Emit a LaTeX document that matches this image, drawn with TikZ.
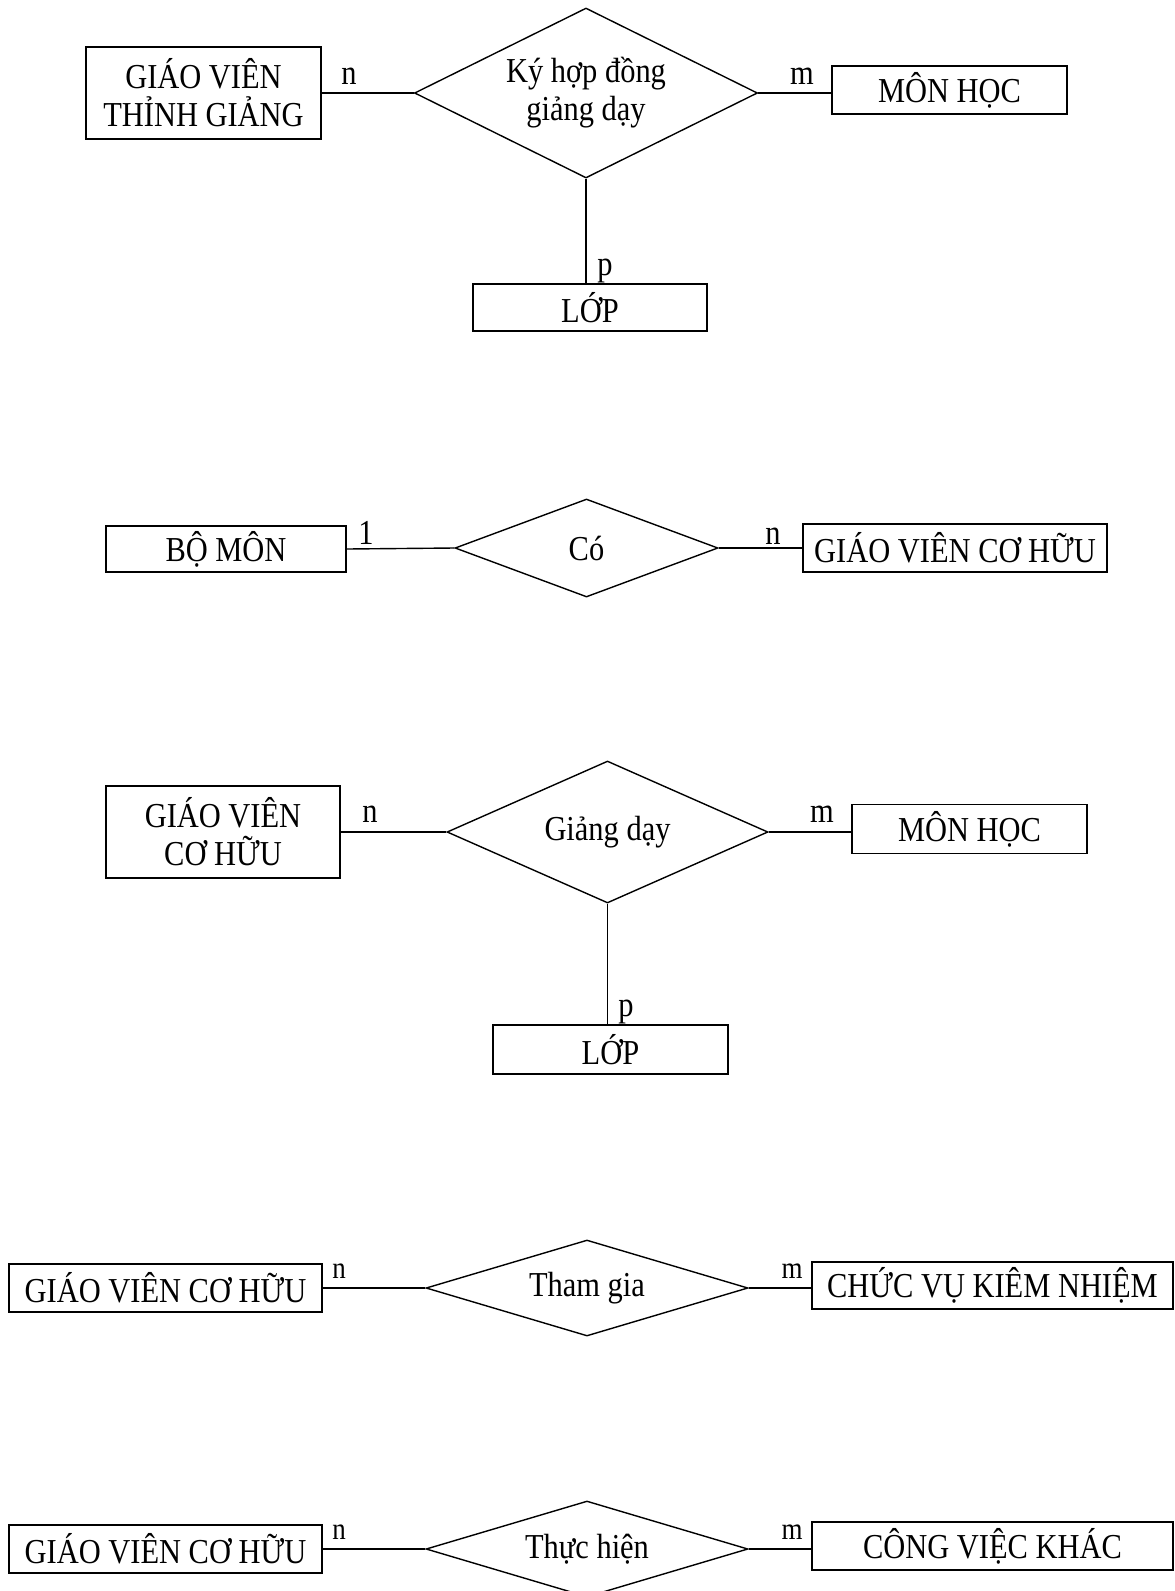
\documentclass[tikz,border=0pt]{standalone}
\usepackage{fontspec}
\setmainfont[FakeStretch=0.87]{Liberation Serif}
\usetikzlibrary{shapes.geometric,calc}

\tikzset{
  entity/.style={draw, line width=1.4pt, rectangle, inner sep=0pt, align=center,
    font=\fontsize{35}{38}\selectfont},
  relation/.style={draw, line width=1.4pt, diamond, inner sep=0pt, align=center,
    font=\fontsize{35}{38}\selectfont},
  link/.style={line width=1.4pt},
  card/.style={inner sep=0pt, font=\fontsize{35}{38}\selectfont},
  cardsmall/.style={inner sep=0pt, font=\fontsize{31}{34}\selectfont}
}

\begin{document}
\begin{tikzpicture}[x=1pt, y=-1pt]
\useasboundingbox[fill=white] (0,0) rectangle (1175,1591);

% --- Ky hop dong giang day (ternary) ---
\node[entity, minimum width=235, minimum height=92] (gvtg) at (203.5,93) {GIÁO VIÊN\\THỈNH GIẢNG};
\node[relation, aspect=2, minimum width=343, minimum height=170] (r1) at (586,93) {Ký hợp đồng\\giảng dạy};
\node[entity, minimum width=235, minimum height=48] (mh1) at (949.5,90) {MÔN HỌC};
\node[entity, minimum width=234, minimum height=47] (lop1) at (590,307.5) {LỚP};
\draw[link] (gvtg.east) -- (r1.west);
\draw[link] (r1.east) -- (r1.east -| mh1.west);
\draw[link] (r1.south) -- (r1.south |- lop1.north);
\node[card] (c1n) at (349,76) {n};
\node[card] (c1m) at (802,76) {m};
\node[card] (c1p) at (605,271) {p};

% --- Co ---
\node[entity, minimum width=240, minimum height=46] (bm) at (226,549) {BỘ MÔN};
\node[relation, aspect=3, minimum width=263, minimum height=98] (r2) at (586.5,548) {Có};
\node[entity, minimum width=304, minimum height=48] (gvch2) at (955,548) {GIÁO VIÊN CƠ HỮU};
\draw[link] (bm.east) -- (r2.west);
\draw[link] (r2.east) -- (gvch2.west);
\node[card] (c2a) at (366,533) {1};
\node[card] (c2b) at (773,536) {n};

% --- Giang day (ternary) ---
\node[entity, minimum width=234, minimum height=92] (gvch3) at (223,832) {GIÁO VIÊN\\CƠ HỮU};
\node[relation, aspect=2.3, minimum width=321, minimum height=142] (r3) at (607.5,832) {\raisebox{8pt}{Giảng dạy}};
\node[entity, minimum width=235, minimum height=49] (mh3) at (969.5,829) {MÔN HỌC};
\node[entity, minimum width=235, minimum height=49] (lop3) at (610.5,1049.5) {LỚP};
\draw[link] (gvch3.east) -- (r3.west);
\draw[link] (r3.east) -- (r3.east -| mh3.west);
\draw[link] (r3.south) -- (r3.south |- lop3.north);
\node[card] (c3n) at (370,814) {n};
\node[card] (c3m) at (822,814) {m};
\node[card] (c3p) at (626,1012) {p};

% --- Tham gia ---
\node[entity, minimum width=313, minimum height=48] (gvch4) at (165.5,1288) {GIÁO VIÊN CƠ HỮU};
\node[relation, aspect=3.3, minimum width=322, minimum height=96] (r4) at (587,1288) {Tham gia};
\node[entity, minimum width=361, minimum height=47] (cv4) at (992.5,1285.5) {CHỨC VỤ KIÊM NHIỆM};
\draw[link] (gvch4.east) -- (r4.west);
\draw[link] (r4.east) -- (r4.east -| cv4.west);
\node[cardsmall] (c4n) at (339,1271) {n};
\node[cardsmall] (c4m) at (792,1271) {m};

% --- Thuc hien ---
\node[entity, minimum width=313, minimum height=48] (gvch5) at (165.5,1549) {GIÁO VIÊN CƠ HỮU};
\node[relation, aspect=3.3, minimum width=322, minimum height=96] (r5) at (587,1549) {Thực hiện};
\node[entity, minimum width=361, minimum height=48] (cv5) at (992.5,1546) {CÔNG VIỆC KHÁC};
\draw[link] (gvch5.east) -- (r5.west);
\draw[link] (r5.east) -- (r5.east -| cv5.west);
\node[cardsmall] (c5n) at (339,1532) {n};
\node[cardsmall] (c5m) at (792,1532) {m};
\end{tikzpicture}
\end{document}
